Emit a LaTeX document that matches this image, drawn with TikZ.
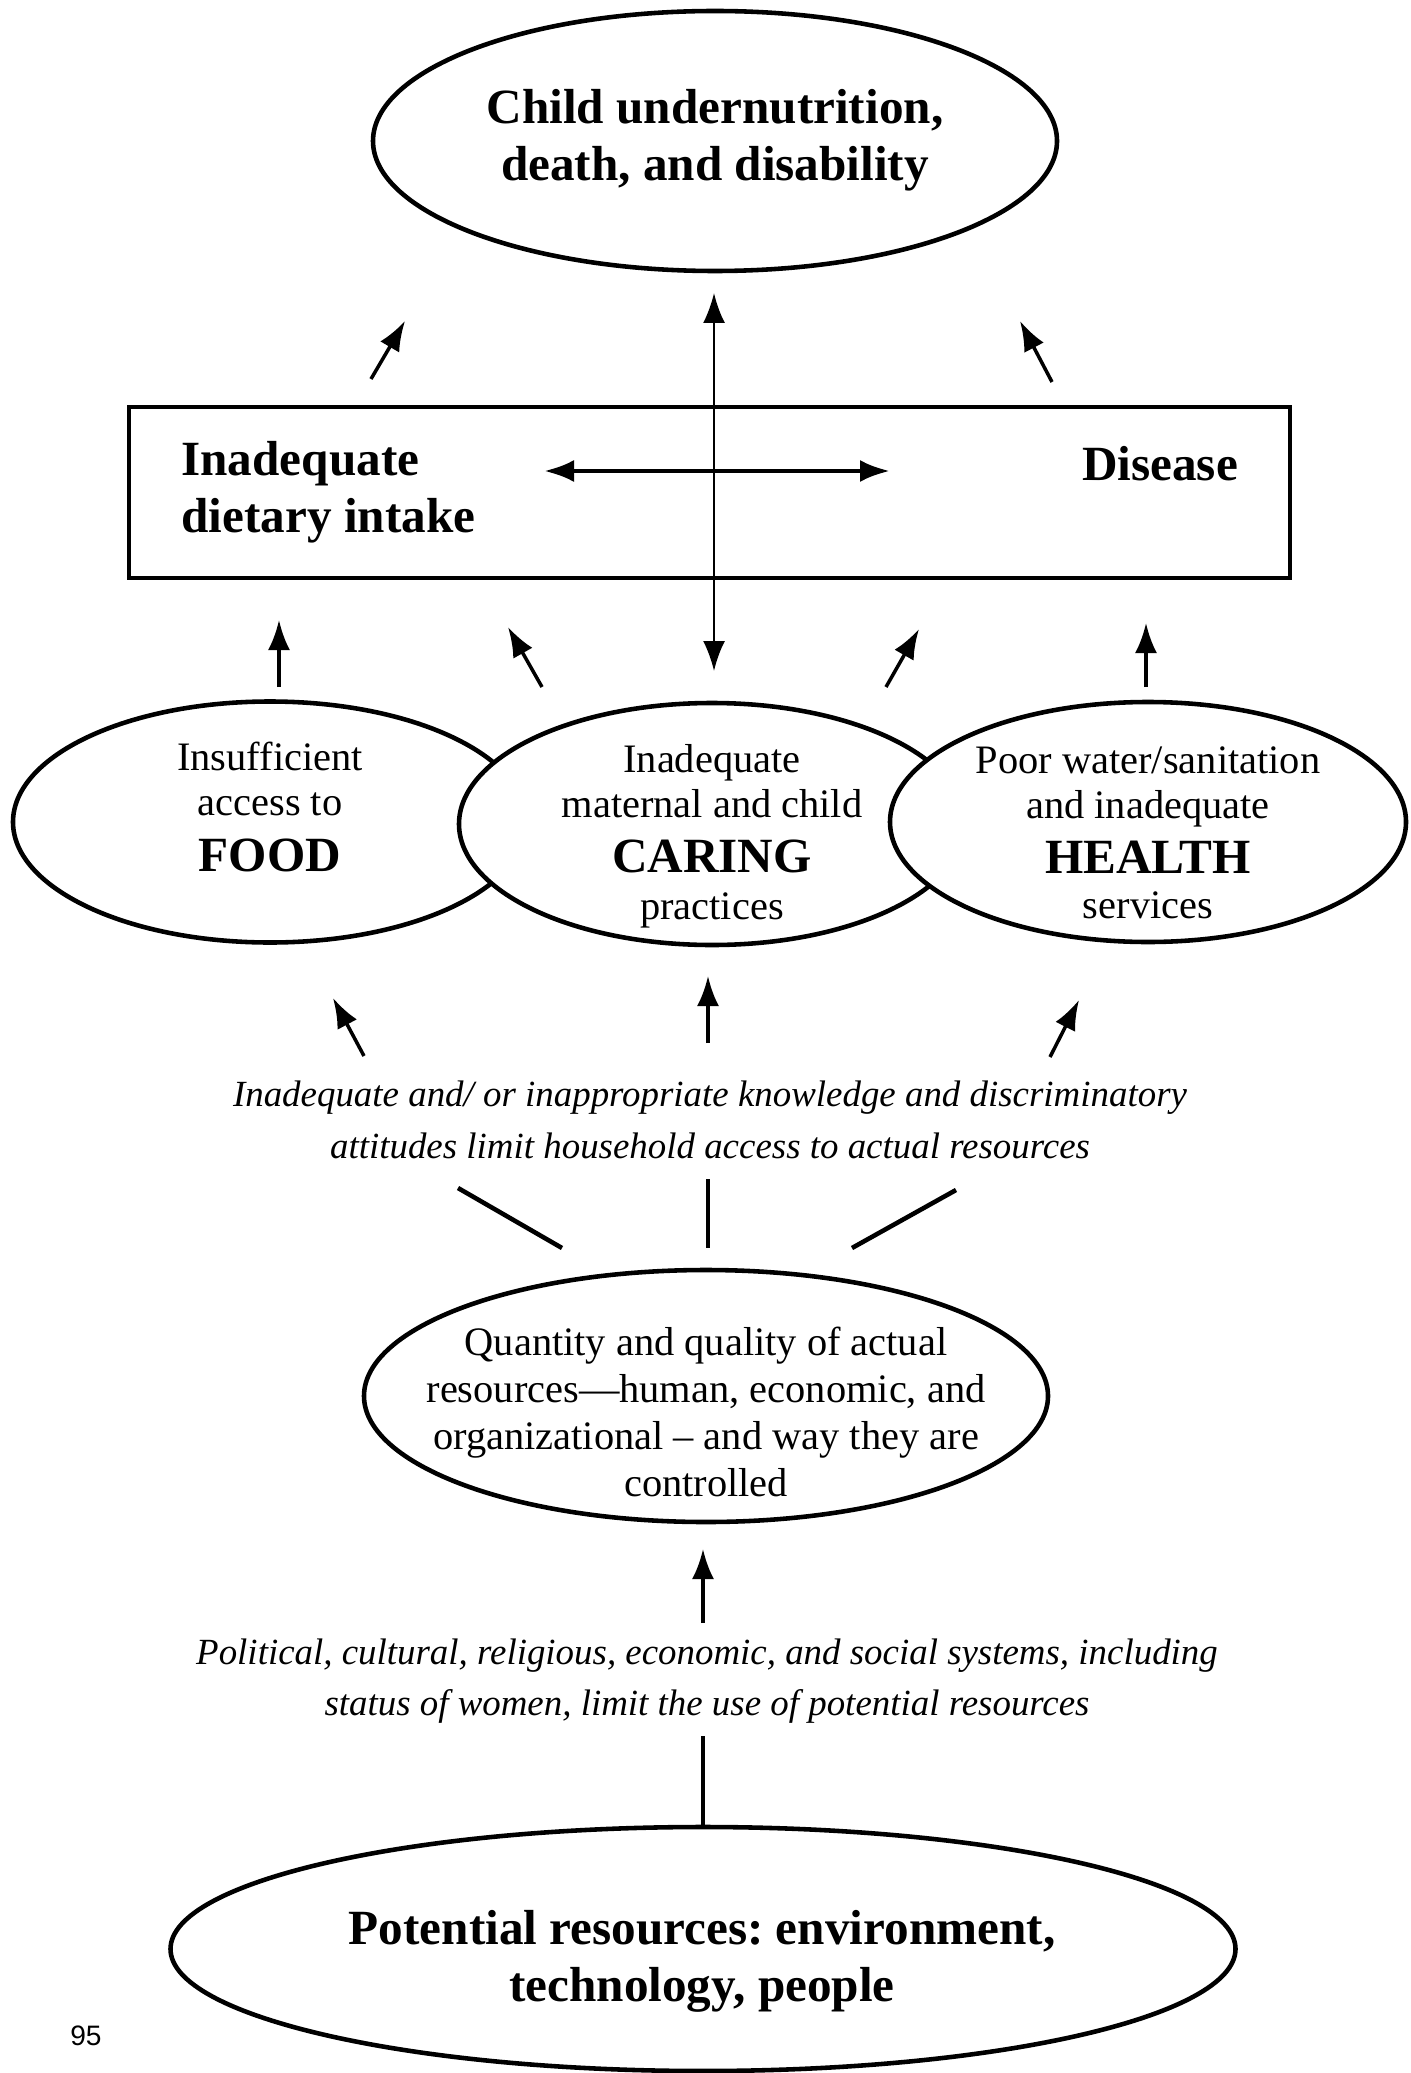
\documentclass[tikz,border=0pt]{standalone}
\usepackage{fontspec}
\setmainfont{Liberation Serif}
\newfontfamily\pagefont{Liberation Sans}
\usetikzlibrary{arrows.meta,shapes.geometric}
\frenchspacing

\tikzset{
  blob/.style={ellipse,draw,line width=1.3pt,fill=white,inner sep=0pt},
  bigtext/.style={font=\fontsize{14}{16.2}\selectfont\bfseries,align=center},
  smalltext/.style={font=\fontsize{11.5}{12.8}\selectfont,align=center},
  slanted/.style={font=\fontsize{10.5}{14.6}\selectfont\itshape,align=center},
  arr/.style={->,line width=1pt},
  bar/.style={line width=1.3pt},
}
\newcommand{\capword}[1]{{\fontsize{14}{16}\selectfont\bfseries #1}}

\begin{document}
\begin{tikzpicture}[>={Latex[length=3mm,width=2.2mm]}]
  \useasboundingbox (0,0) rectangle (14.10,-20.73);

  % outcome
  \node[blob,minimum width=6.84cm,minimum height=2.60cm] (out) at (7.15,-1.41) {};
  \node[bigtext] (outtxt) at (7.15,-1.40) {Child undernutrition,\\ death, and disability};

  % immediate causes
  \node[draw,line width=1.4pt,minimum width=11.61cm,minimum height=1.71cm] (box) at (7.095,-4.925) {};
  \node[bigtext,align=left,anchor=west] (intake) at (1.69,-4.92) {Inadequate\\ dietary intake};
  \node[bigtext] (disease) at (11.60,-4.64) {Disease};

  % underlying causes
  \node[blob,minimum width=5.14cm,minimum height=2.41cm] (food) at (2.70,-8.22) {};
  \node[blob,minimum width=5.06cm,minimum height=2.42cm] (care) at (7.12,-8.24) {};
  \node[blob,minimum width=5.16cm,minimum height=2.40cm] (health) at (11.48,-8.22) {};
  \node[smalltext] (foodtxt) at (2.70,-8.07) {Insufficient\\ access to\\[3pt] \capword{FOOD}};
  \node[smalltext] (caretxt) at (7.12,-8.36) {Inadequate\\ maternal and child\\[3pt] \capword{CARING}\\[0.5pt] practices};
  \node[smalltext] (healthtxt) at (11.48,-8.33) {Poor water/sanitation\\ and inadequate\\[3pt] \capword{HEALTH}\\ services};

  \node[slanted] (know) at (7.10,-11.20) {Inadequate and/ or inappropriate knowledge and discriminatory\\ attitudes limit household access to actual resources};

  % basic causes
  \node[blob,minimum width=6.84cm,minimum height=2.52cm] (res) at (7.06,-13.96) {};
  \node[font=\fontsize{11.5}{13.3}\selectfont,align=center] (restxt) at (7.06,-14.12) {Quantity and quality of actual\\ resources---human, economic, and\\ organizational -- and way they are\\ controlled};

  \node[slanted] (systems) at (7.07,-16.81) {Political, cultural, religious, economic, and social systems, including\\ status of women, limit the use of potential resources};

  \node[blob,minimum width=10.65cm,minimum height=2.44cm] (base) at (7.03,-19.49) {};
  \node[bigtext] (basetxt) at (7.02,-19.61) {Potential resources: environment,\\ technology, people};

  \node[font=\pagefont\fontsize{8}{9}\selectfont] (page) at (0.86,-20.36) {95};

  % arrow ends
  \coordinate (u1) at (3.71,-3.79);  \coordinate (u1t) at (4.05,-3.21);
  \coordinate (u2) at (10.52,-3.82); \coordinate (u2t) at (10.20,-3.21);
  \coordinate (vt) at (7.14,-2.93);  \coordinate (vb) at (7.14,-6.71);
  \coordinate (hl) at (5.44,-4.71);  \coordinate (hr) at (8.90,-4.71);
  \coordinate (b1) at (2.79,-6.87);  \coordinate (b1t) at (2.79,-6.20);
  \coordinate (b2) at (5.42,-6.87);  \coordinate (b2t) at (5.08,-6.27);
  \coordinate (b3) at (8.86,-6.87);  \coordinate (b3t) at (9.19,-6.29);
  \coordinate (b4) at (11.46,-6.87); \coordinate (b4t) at (11.46,-6.23);
  \coordinate (k1) at (3.64,-10.56); \coordinate (k1t) at (3.33,-9.98);
  \coordinate (k2) at (7.08,-10.43); \coordinate (k2t) at (7.08,-9.76);
  \coordinate (k3) at (10.50,-10.57);\coordinate (k3t) at (10.79,-10.00);
  \coordinate (s1) at (4.58,-11.88); \coordinate (s1e) at (5.62,-12.48);
  \coordinate (s2) at (7.08,-11.79); \coordinate (s2e) at (7.08,-12.48);
  \coordinate (s3) at (9.56,-11.90); \coordinate (s3e) at (8.52,-12.48);
  \coordinate (r1) at (7.03,-16.23); \coordinate (r1t) at (7.03,-15.49);
  \coordinate (p1) at (7.03,-17.36);

  \draw[arr] (u1) -- (u1t);
  \draw[arr] (u2) -- (u2t);
  \draw[<->,line width=0.7pt] (vb) -- (vt);
  \draw[<->,line width=1.3pt] (hl) -- (hr);
  \foreach \a in {b1,b2,b3,b4,k1,k2,k3,r1}
    \draw[arr] (\a) -- (\a t);
  \foreach \a in {s1,s2,s3}
    \draw[bar] (\a) -- (\a e);
  \draw[bar] (p1) -- (base.north);
\end{tikzpicture}
\end{document}
